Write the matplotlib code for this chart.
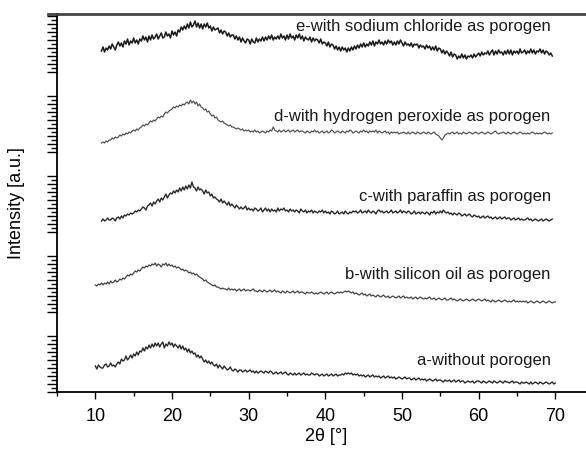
import numpy as np
import matplotlib.pyplot as plt
from matplotlib.ticker import FixedLocator

plt.rcParams['font.family'] = ['Liberation Sans', 'DejaVu Sans']

# 2theta scan grids (deg)
two_theta_ab = np.round(np.arange(10.0, 70.01, 0.2), 2)
two_theta_cde = np.round(np.arange(10.8, 69.61, 0.2), 2)

# intensities (a.u.), each trace relative to its own offset
# one row per degree
a_without = [
    26, 23, 27, 25, 24,  24, 27, 28, 25, 26,  29, 26, 27, 25, 28,  30, 28, 33, 31, 32,
    36, 32, 34, 37, 34,  38, 36, 40, 37, 41,  40, 44, 41, 45, 43,  47, 44, 48, 45, 49,
    46, 49, 45, 48, 50,  44, 48, 46, 50, 47,  49, 45, 48, 46, 44,  47, 43, 46, 42, 44,
    40, 43, 39, 41, 38,  39, 35, 37, 34, 36,  33, 30, 32, 29, 31,  28, 30, 27, 26, 28,
    24, 27, 25, 23, 26,  24, 22, 23, 25, 22,  21, 23, 22, 20, 22,  22, 20, 21, 22, 20,
    21, 22, 20, 21, 19,  21, 19, 20, 21, 20,  19, 21, 20, 19, 21,  20, 18, 19, 20, 18,
    19, 20, 18, 19, 20,  18, 17, 19, 18, 17,  19, 17, 18, 19, 17,  18, 19, 17, 18, 17,
    17, 19, 18, 17, 18,  18, 16, 17, 18, 16,  17, 18, 16, 17, 18,  16, 17, 18, 16, 17,
    17, 18, 17, 19, 18,  19, 18, 19, 17, 18,  17, 18, 16, 17, 16,  17, 15, 16, 17, 15,
    16, 17, 15, 16, 15,  16, 14, 15, 16, 14,  15, 16, 14, 15, 14,  15, 13, 14, 15, 14,
    13, 14, 15, 13, 14,  14, 12, 13, 14, 12,  13, 14, 12, 13, 12,  13, 11, 12, 13, 12,
    11, 12, 13, 11, 12,  12, 11, 10, 12, 11,  11, 12, 10, 11, 12,  10, 11, 12, 10, 11,
    11, 9, 10, 11, 10,   10, 11, 9, 10, 11,   11, 10, 9, 11, 10,   9, 10, 11, 10, 9,
    11, 10, 9, 10, 11,   10, 9, 11, 10, 10,   9, 10, 11, 9, 10,    10, 9, 8, 10, 9,
    9, 10, 9, 8, 10,     8, 9, 10, 9, 8,      10, 9, 8, 9, 10,     9, 8, 9, 10, 8,
    9,
]
b_silicon_oil = [
    27, 26, 28, 27, 29,  27, 29, 28, 30, 28,  31, 29, 30, 32, 30,  31, 33, 32, 34, 33,
    35, 37, 36, 38, 37,  39, 41, 40, 42, 41,  43, 45, 44, 46, 45,  47, 46, 48, 47, 49,
    46, 48, 47, 45, 48,  47, 49, 46, 48, 46,  47, 45, 46, 44, 45,  44, 42, 43, 41, 42,
    41, 39, 40, 38, 39,  37, 38, 36, 35, 34,  33, 31, 32, 30, 29,  28, 27, 26, 27, 25,
    25, 24, 23, 24, 23,  23, 22, 24, 22, 23,  22, 23, 21, 22, 23,  21, 22, 23, 21, 22,
    22, 21, 22, 23, 21,  21, 20, 22, 21, 20,  22, 21, 20, 21, 22,  20, 21, 22, 20, 21,
    20, 19, 21, 20, 19,  21, 20, 19, 20, 21,  19, 20, 21, 19, 20,  20, 19, 18, 20, 19,
    19, 20, 19, 18, 19,  18, 19, 20, 19, 18,  19, 20, 18, 19, 20,  19, 18, 19, 20, 19,
    20, 19, 20, 21, 20,  21, 20, 19, 20, 18,  19, 18, 17, 18, 19,  17, 18, 16, 17, 18,
    16, 17, 16, 15, 17,  16, 15, 16, 17, 15,  15, 16, 14, 15, 16,  15, 14, 15, 16, 14,
    15, 16, 14, 15, 14,  14, 15, 13, 14, 15,  13, 14, 15, 14, 13,  14, 13, 14, 15, 13,
    13, 14, 12, 13, 14,  13, 12, 13, 14, 12,  12, 13, 14, 12, 13,  12, 11, 12, 13, 12,
    11, 12, 13, 12, 11,  12, 13, 12, 11, 12,  13, 12, 11, 12, 13,  11, 12, 11, 10, 12,
    11, 10, 11, 12, 11,  10, 11, 12, 11, 10,  11, 10, 11, 12, 10,  11, 10, 11, 10, 11,
    10, 11, 9, 10, 11,   10, 9, 10, 11, 10,   9, 10, 11, 10, 9,    10, 11, 10, 9, 10,
    10,
]
c_paraffin = [
    11,
    13, 11, 12, 14, 12,  12, 14, 13, 11, 14,  15, 13, 16, 14, 17,  16, 18, 17, 19, 18,
    19, 21, 20, 22, 21,  23, 25, 24, 22, 26,  27, 29, 26, 30, 28,  31, 33, 30, 34, 32,
    35, 38, 34, 37, 39,  38, 41, 39, 42, 40,  44, 41, 45, 42, 46,  43, 47, 44, 50, 45,
    44, 41, 45, 42, 43,  41, 38, 42, 39, 40,  36, 38, 34, 35, 33,  32, 30, 33, 29, 31,
    29, 27, 30, 26, 28,  26, 24, 27, 25, 23,  25, 23, 24, 26, 22,  24, 22, 23, 21, 24,
    23, 21, 22, 24, 20,  22, 24, 21, 23, 20,  23, 21, 22, 20, 24,  21, 23, 22, 24, 21,
    22, 20, 23, 21, 22,  20, 22, 21, 19, 23,  21, 20, 22, 19, 21,  20, 22, 19, 21, 20,
    19, 21, 20, 22, 19,  21, 19, 20, 18, 21,  20, 18, 19, 21, 18,  19, 20, 18, 21, 19,
    18, 20, 19, 21, 20,  21, 19, 20, 22, 19,  20, 21, 19, 22, 20,  19, 21, 20, 18, 21,
    22, 20, 21, 19, 20,  21, 19, 20, 22, 19,  20, 21, 19, 20, 22,  19, 21, 20, 19, 21,
    20, 18, 19, 21, 18,  19, 20, 18, 20, 19,  18, 20, 19, 17, 20,  19, 21, 18, 20, 19,
    21, 19, 22, 20, 19,  20, 18, 19, 17, 19,  18, 17, 19, 18, 16,  17, 18, 16, 17, 18,
    16, 15, 17, 16, 15,  16, 14, 15, 16, 14,  15, 16, 14, 15, 13,  14, 15, 13, 14, 15,
    13, 14, 15, 13, 14,  14, 12, 13, 14, 12,  13, 14, 12, 13, 12,  12, 13, 14, 12, 13,
    11, 12, 13, 12, 11,  12, 13, 11, 12, 13,
    12, 11, 12, 13,
]
d_hydrogen_peroxide = [
    9,
    10, 9, 11, 10, 12,   12, 14, 13, 15, 14,  15, 17, 16, 18, 17,  19, 18, 20, 19, 21,
    22, 21, 23, 22, 24,  25, 27, 26, 28, 27,  29, 31, 30, 32, 31,  33, 35, 34, 36, 35,
    38, 40, 39, 41, 42,  43, 45, 44, 46, 45,  47, 46, 48, 47, 49,  50, 48, 52, 49, 51,
    48, 50, 46, 48, 45,  44, 42, 43, 40, 41,  38, 36, 37, 34, 35,  32, 31, 30, 31, 29,
    28, 27, 26, 27, 25,  25, 24, 23, 24, 23,  22, 23, 21, 22, 21,  22, 20, 21, 20, 22,
    20, 21, 19, 20, 21,  20, 19, 21, 20, 22,  21, 25, 22, 21, 20,  22, 20, 21, 22, 20,
    21, 22, 20, 21, 22,  20, 21, 22, 20, 21,  21, 20, 19, 21, 20,  19, 21, 20, 22, 20,
    21, 19, 20, 21, 19,  20, 21, 19, 20, 22,  21, 19, 20, 21, 20,  19, 21, 20, 19, 21,
    20, 22, 21, 19, 20,  21, 20, 19, 21, 20,  22, 20, 21, 19, 21,  20, 21, 20, 22, 19,
    21, 20, 19, 20, 21,  19, 20, 18, 20, 19,  20, 19, 20, 18, 19,  19, 20, 19, 18, 20,
    18, 19, 20, 19, 18,  20, 19, 18, 19, 20,  19, 18, 20, 19, 18,  19, 20, 18, 17, 16,
    14, 12, 14, 17, 18,  19, 18, 19, 20, 18,  19, 20, 18, 19, 18,  20, 19, 18, 19, 20,
    19, 18, 19, 20, 19,  18, 19, 20, 19, 18,  19, 20, 19, 18, 19,  20, 21, 19, 18, 19,
    19, 20, 19, 18, 20,  19, 18, 19, 20, 19,  18, 19, 20, 19, 18,  19, 18, 19, 18, 19,
    20, 19, 18, 19, 18,  19, 18, 19, 20, 19,
    18, 19, 18, 19,
]
e_sodium_chloride = [
    21,
    25, 20, 24, 22, 26,  23, 28, 25, 22, 27,  30, 26, 29, 25, 31,  28, 33, 27, 31, 29,
    34, 29, 32, 28, 33,  31, 36, 32, 35, 30,  36, 32, 37, 33, 35,  38, 33, 36, 39, 34,
    35, 40, 36, 38, 34,  41, 37, 40, 36, 42,  40, 45, 42, 46, 43,  48, 44, 50, 45, 47,
    51, 45, 49, 44, 48,  43, 48, 45, 49, 44,  46, 41, 45, 42, 43,  44, 39, 42, 38, 41,
    40, 36, 39, 35, 37,  37, 33, 36, 32, 35,  30, 34, 31, 29, 33,  32, 28, 33, 30, 29,
    34, 30, 33, 31, 35,  31, 35, 32, 36, 33,  37, 32, 35, 33, 36,  33, 38, 34, 36, 32,
    37, 33, 38, 34, 36,  32, 37, 34, 38, 33,  36, 31, 35, 33, 32,  35, 30, 34, 31, 33,
    32, 29, 33, 28, 30,  29, 26, 30, 25, 28,  27, 23, 26, 22, 25,  21, 25, 22, 24, 20,
    24, 21, 25, 22, 26,  23, 27, 24, 28, 25,  29, 25, 28, 26, 30,  27, 31, 26, 30, 28,
    32, 28, 30, 27, 31,  28, 32, 29, 31, 27,  30, 27, 31, 28, 32,  29, 26, 30, 27, 28,
    26, 29, 25, 28, 27,  28, 24, 27, 25, 26,  23, 27, 24, 26, 22,  25, 22, 26, 21, 24,
    23, 19, 22, 18, 21,  19, 16, 20, 15, 18,  17, 13, 16, 14, 18,  14, 17, 13, 16, 15,
    17, 14, 18, 15, 17,  19, 16, 20, 17, 19,  18, 21, 17, 20, 22,  17, 21, 18, 22, 19,
    20, 17, 21, 18, 22,  18, 22, 17, 21, 19,  21, 18, 23, 19, 20,  22, 18, 21, 19, 23,
    19, 22, 18, 21, 20,  23, 19, 22, 18, 21,
    20, 17, 19, 16,
]

labels = ['a-without porogen', 'b-with silicon oil as porogen',
          'c-with paraffin as porogen', 'd-with hydrogen peroxide as porogen',
          'e-with sodium chloride as porogen']
offsets = [0, 80, 160, 240, 320]
label_heights = [31, 37, 36, 36, 45]

traces = [(two_theta_ab, a_without, '#2a2a2a', 1.0),
          (two_theta_ab, b_silicon_oil, '#444444', 0.9),
          (two_theta_cde, c_paraffin, '#2a2a2a', 1.0),
          (two_theta_cde, d_hydrogen_peroxide, '#555555', 0.9),
          (two_theta_cde, e_sodium_chloride, '#1a1a1a', 1.1)]

fig = plt.figure(figsize=(5.86, 4.53), dpi=100)
ax = fig.add_axes([57 / 586, 61 / 453, 529 / 586, 378 / 453])

for (x, y, col, lw), off in zip(traces, offsets):
    ax.plot(x, np.array(y) + off, color=col, lw=lw)

for lab, off, h in zip(labels, offsets, label_heights):
    ax.text(69.4, off + h, lab, ha='right', va='center', fontsize=12, color='#1a1a1a')

ax.set_xlim(5, 74)
ax.set_ylim(0, 378)
ax.set_xticks(range(10, 71, 10))
ax.xaxis.set_minor_locator(FixedLocator(range(5, 71, 5)))

# stacked intensity ticks, one group per trace
major_y = [o + k for o in offsets for k in range(0, 57, 8)]
minor_y = [o + k for o in offsets for k in range(4, 57, 8)]
ax.yaxis.set_major_locator(FixedLocator(major_y))
ax.yaxis.set_minor_locator(FixedLocator(minor_y))
ax.set_yticklabels([])

ax.tick_params(axis='x', which='major', direction='out', length=5, width=1, labelsize=13, pad=6.5)
ax.tick_params(axis='x', which='minor', direction='out', length=3, width=1)
ax.tick_params(axis='y', which='major', direction='out', length=7, width=1)
ax.tick_params(axis='y', which='minor', direction='out', length=4.5, width=1)

ax.spines['right'].set_visible(False)
ax.spines['left'].set_linewidth(1.3)
ax.spines['bottom'].set_linewidth(1.3)
ax.spines['top'].set_linewidth(2)
ax.spines['top'].set_color('#444444')
ax.plot([-0.017, 0], [1, 1], transform=ax.transAxes, color='#444444', lw=2, clip_on=False)

ax.set_xlabel('2θ [°]', fontsize=13)
ax.xaxis.set_label_coords(0.508, -0.095)
ax.set_ylabel('Intensity [a.u.]', fontsize=13)
ax.yaxis.set_label_coords(-0.0605, 0.5)

fig.savefig('out.png', dpi=100)
